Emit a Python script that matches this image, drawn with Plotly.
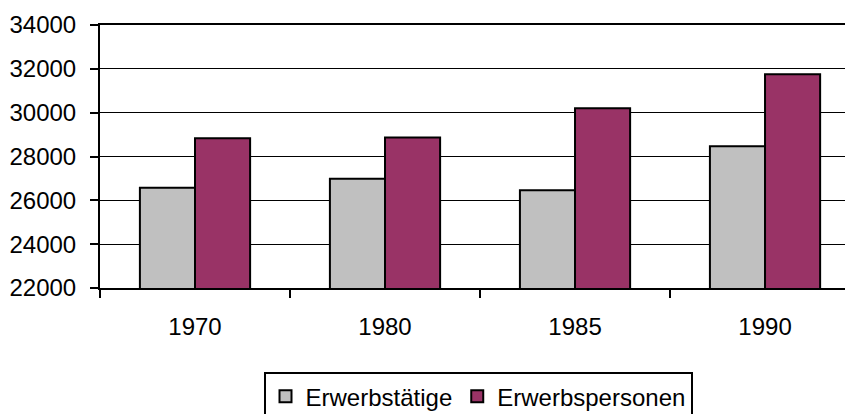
import plotly.graph_objects as go

years = ["1970", "1980", "1985", "1990"]
erwerbstaetige = [26570, 26980, 26460, 28470]
erwerbspersonen = [28830, 28870, 30200, 31750]
y_ticks = [22000, 24000, 26000, 28000, 30000, 32000, 34000]
y_labels = [str(v) for v in y_ticks]

font = dict(family="Liberation Sans, Arial, sans-serif", size=24, color="black")

fig = go.Figure()
fig.add_trace(go.Bar(x=years, y=erwerbstaetige, name="Erwerbstätige",
                     marker=dict(color="#c0c0c0", line=dict(color="black", width=2))))
fig.add_trace(go.Bar(x=years, y=erwerbspersonen, name="Erwerbspersonen",
                     marker=dict(color="#993366", line=dict(color="black", width=2))))

# page body has an 8px margin, so the figure is sized to fill the window from (8, 8)
fig.update_layout(
    width=845, height=406,
    margin=dict(l=92, r=0, t=17, b=125.5, autoexpand=False),
    plot_bgcolor="white", paper_bgcolor="white",
    font=font,
    barmode="group", bargap=0.42, bargroupgap=0,
    showlegend=True,
    legend=dict(orientation="h", x=0.502, xanchor="center", y=-0.32, yanchor="top",
                bordercolor="black", borderwidth=2, font=font,
                itemwidth=30, tracegroupgap=0),
    xaxis=dict(range=[-0.5, 3.463], showline=True, linecolor="black", linewidth=2,
               mirror=True, automargin=False,
               ticks="outside", tickson="boundaries", ticklen=8, tickwidth=2,
               tickcolor="black", showgrid=False, tickfont=font,
               ticklabelstandoff=16),
    yaxis=dict(range=[22000, 34000], tickvals=y_ticks, ticktext=y_labels,
               showline=True, automargin=False,
               linecolor="black", linewidth=2, ticks="outside", ticklen=8,
               tickwidth=2, tickcolor="black", showgrid=True, gridcolor="black",
               gridwidth=1, zeroline=False, ticklabelstandoff=9, tickfont=font),
)

fig.write_html("out.html")
